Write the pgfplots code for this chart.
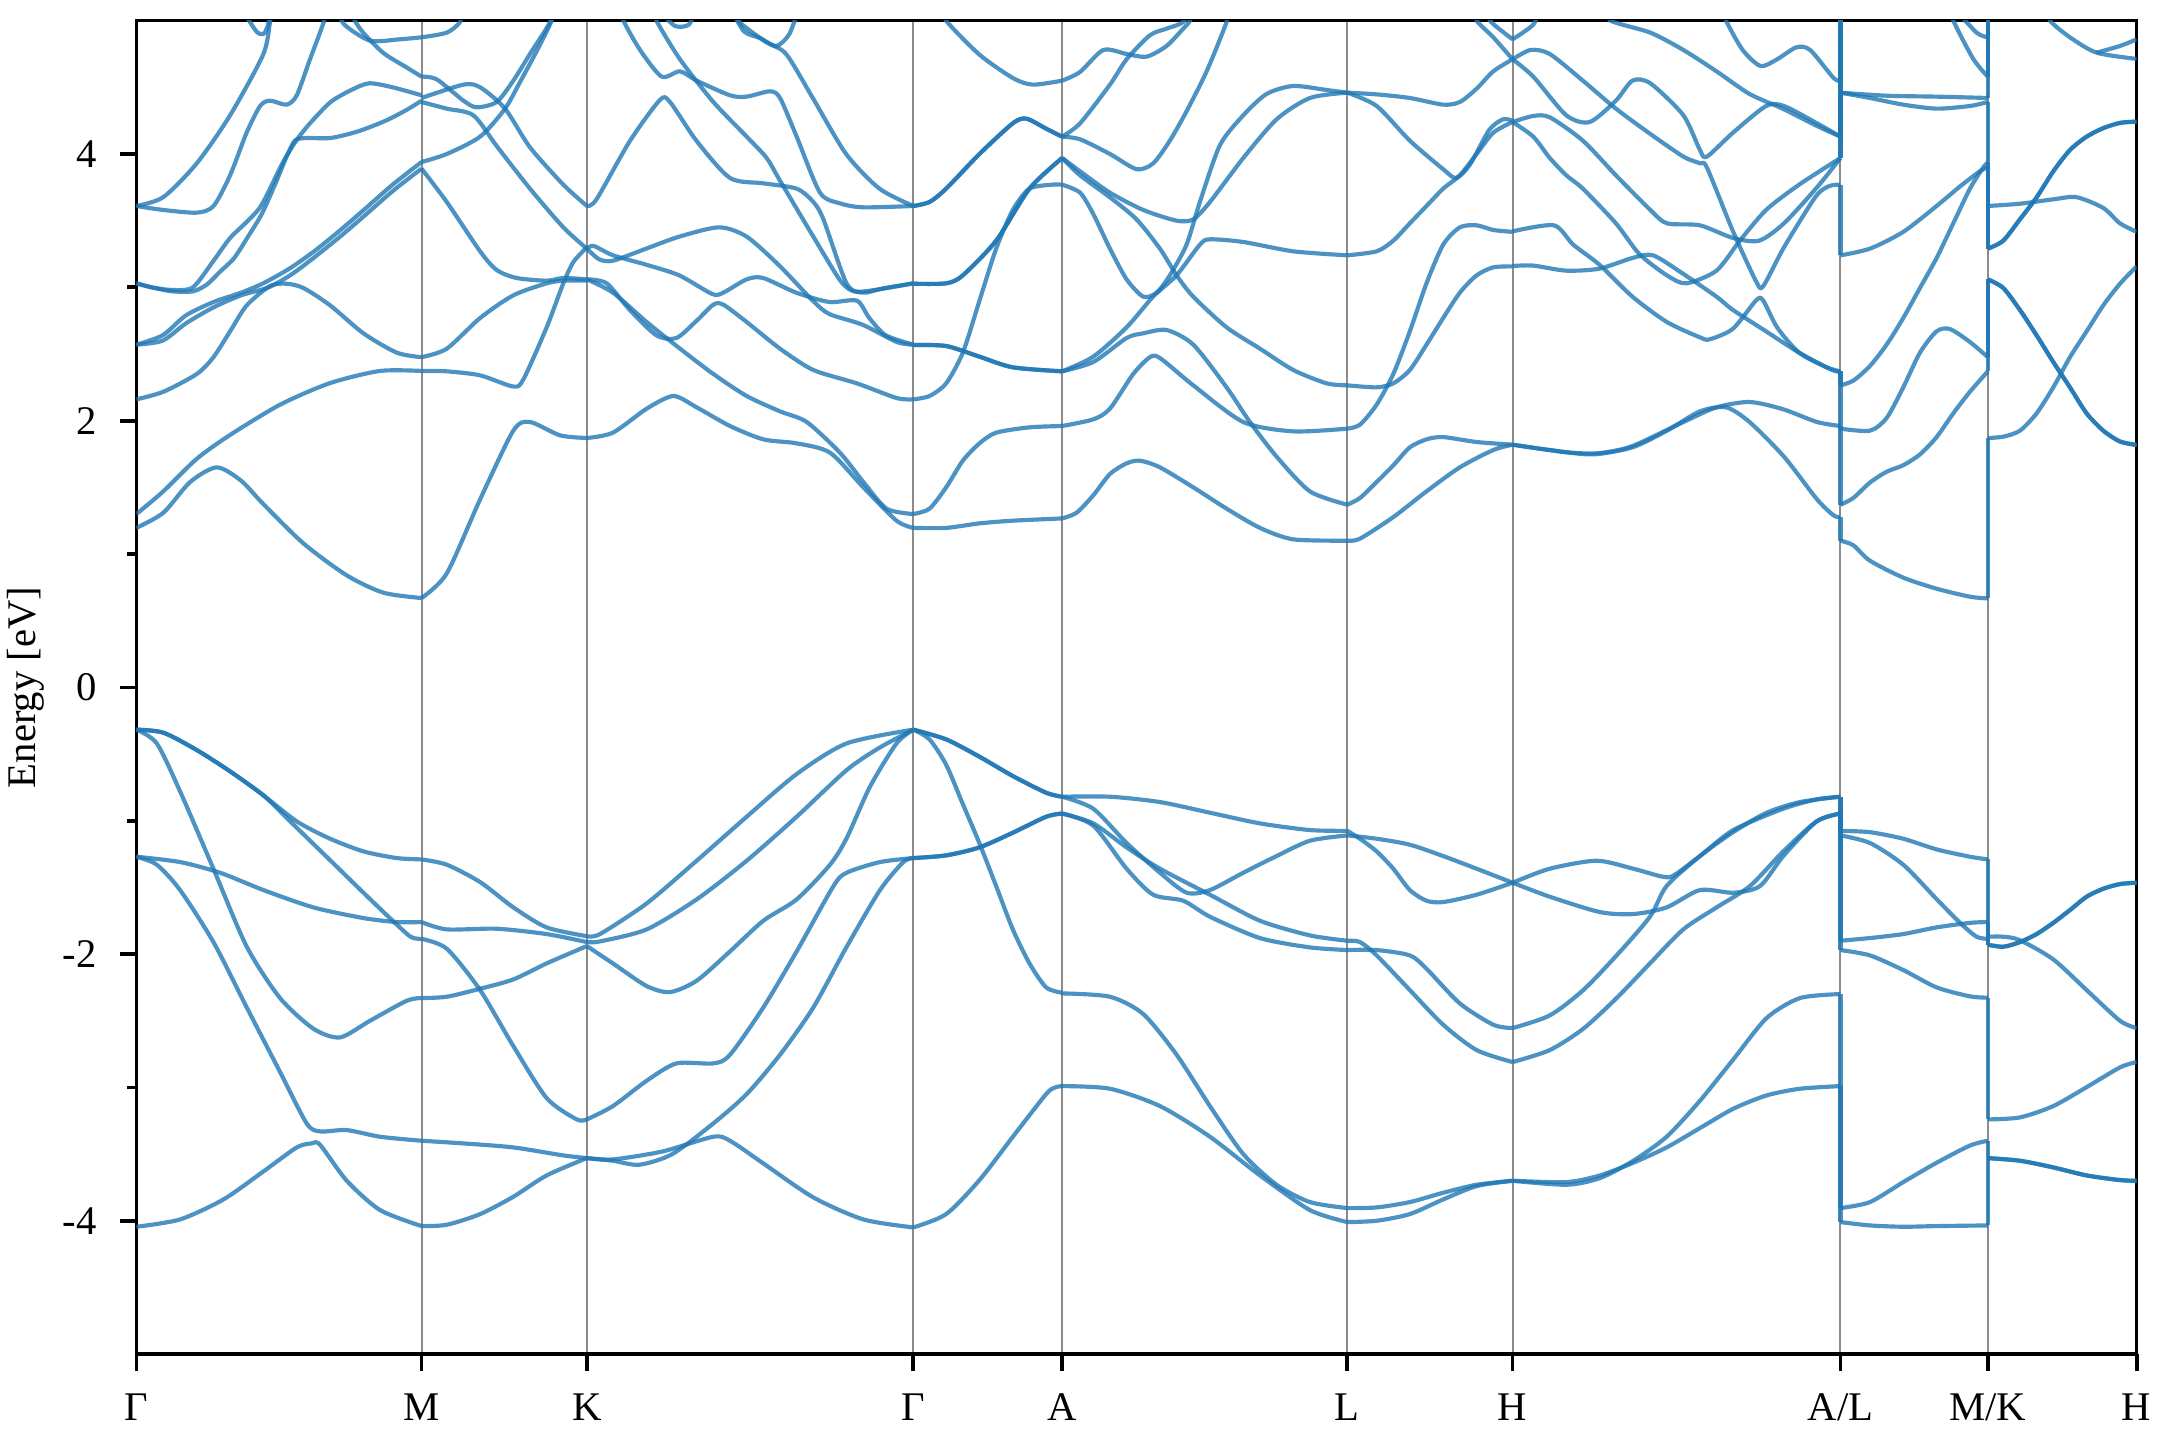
\documentclass[border=0pt]{standalone}
\usepackage{fontspec}
\setmainfont{Liberation Serif}
\usepackage{pgfplots}
\pgfplotsset{compat=1.18}
\definecolor{bandblue}{RGB}{31,119,180}
\begin{document}
\begin{tikzpicture}[font=\fontsize{9.8}{11.8}\selectfont]
\begin{axis}[
  scale only axis, width=169.35mm, height=112.9mm,
  xmin=99, xmax=1551, ymin=-5, ymax=5,
  xtick={99,306,426,663,771,978,1098,1336,1443,1551},
  xticklabels={Γ,M,K,Γ,A,L,H,A/L,M/K,H},
  ytick={-4,-2,0,2,4}, minor y tick num=1,
  /pgf/number format/assume math mode=true,
  tick align=outside, xtick pos=bottom, ytick pos=left,
  xmajorgrids, major x grid style={black!45, line width=0.5pt},
  major tick length=4pt, minor tick length=2.2pt,
  every tick/.style={black, line width=0.9pt},
  axis line style={line width=0.8pt},
  xticklabel style={yshift=-2pt},
  yticklabel style={xshift=-2pt},
  band/.style={bandblue, line width=1.0pt, draw opacity=0.8, line join=round, no markers, smooth, tension=0.45},
  vband/.style={bandblue, line width=1.0pt, draw opacity=0.8, no markers},
]
% ===== Gamma -> M : valence
\addplot[band] coordinates {(99,-0.317)(118.6,-0.34)(142.8,-0.47)(167,-0.63)(191.2,-0.81)(215.4,-1.005)(239.6,-1.135)(263.8,-1.23)(288,-1.28)(306,-1.29)};
\addplot[band] coordinates {(99,-0.317)(118.6,-0.34)(142.8,-0.47)(167,-0.63)(191.2,-0.81)(215.4,-1.053)(239.6,-1.296)(263.8,-1.54)(283,-1.73)(298,-1.87)(306,-1.886)};
\addplot[band] coordinates {(99,-0.317)(113.8,-0.42)(130.7,-0.78)(154.9,-1.36)(179.1,-1.945)(203.3,-2.33)(227.5,-2.56)(246.8,-2.625)(268.6,-2.50)(295.2,-2.35)(306,-2.33)};
\addplot[band] coordinates {(99,-1.27)(130.7,-1.31)(159.7,-1.39)(191.2,-1.52)(227.5,-1.65)(263.8,-1.73)(288,-1.76)(306,-1.76)};
\addplot[band] coordinates {(99,-1.27)(113.8,-1.33)(130.7,-1.52)(154.9,-1.91)(179.1,-2.40)(203.3,-2.885)(222.6,-3.27)(232.3,-3.33)(251.7,-3.32)(275.9,-3.37)(306,-3.40)};
\addplot[band] coordinates {(99,-4.045)(130.7,-3.99)(162.2,-3.84)(191.2,-3.63)(215.4,-3.45)(226.3,-3.42)(232.3,-3.43)(251.7,-3.70)(275.9,-3.92)(306,-4.04)};
% ===== M -> K : valence
\addplot[band] coordinates {(306,-1.29)(324.3,-1.33)(348.5,-1.46)(372.6,-1.65)(396.8,-1.80)(426,-1.866)};
\addplot[band] coordinates {(306,-1.76)(324.3,-1.815)(360.5,-1.81)(396.8,-1.85)(426,-1.91)};
\addplot[band] coordinates {(306,-1.886)(324.3,-1.96)(348.5,-2.27)(372.6,-2.69)(396.8,-3.08)(418.6,-3.24)(426,-3.24)};
\addplot[band] coordinates {(306,-2.33)(324.3,-2.32)(348.5,-2.26)(372.6,-2.19)(396.8,-2.07)(426,-1.94)};
\addplot[band] coordinates {(306,-3.40)(336.4,-3.42)(372.6,-3.45)(408.9,-3.51)(426,-3.53)};
\addplot[band] coordinates {(306,-4.04)(324.3,-4.03)(348.5,-3.95)(372.6,-3.82)(396.8,-3.66)(426,-3.53)};
% ===== Gamma -> M : conduction
\addplot[band] coordinates {(99,1.196)(118.6,1.31)(138,1.54)(157.3,1.65)(175,1.55)(191.2,1.374)(220.2,1.08)(251.7,0.84)(278.3,0.71)(306,0.67)};
\addplot[band] coordinates {(99,1.30)(118.6,1.471)(142.8,1.714)(167,1.893)(203.3,2.12)(239.6,2.282)(275.9,2.373)(306,2.373)};
\addplot[band] coordinates {(99,2.16)(118.6,2.217)(142.8,2.35)(154.9,2.476)(167,2.67)(179.1,2.865)(196,3.01)(208.1,3.027)(220.2,2.995)(239.6,2.865)(263.8,2.655)(288,2.51)(306,2.476)};
\addplot[band] coordinates {(99,2.57)(118,2.64)(135,2.79)(155,2.89)(175,2.96)(191,3.03)(210,3.14)(228,3.27)(246,3.42)(264,3.58)(285,3.77)(306,3.94)};
\addplot[band] coordinates {(99,2.57)(118,2.60)(135,2.73)(155,2.85)(175,2.94)(195,3.00)(212,3.10)(230,3.24)(248,3.39)(266,3.55)(286,3.73)(306,3.89)};
\addplot[band] coordinates {(99,3.03)(110,3.00)(125,2.97)(140,2.97)(150,3.02)(160,3.12)(170,3.22)(180,3.38)(190,3.55)(200,3.78)(208,3.98)(214,4.10)(222,4.12)(240,4.12)(260,4.17)(280,4.25)(295,4.33)(306,4.40)};
\addplot[band] coordinates {(99,3.03)(110,3.00)(125,2.98)(140,3.00)(155,3.20)(167,3.37)(180,3.50)(190,3.62)(205,3.93)(215,4.10)(225,4.23)(240,4.39)(255,4.48)(268,4.53)(285,4.50)(306,4.44)};
\addplot[band] coordinates {(99,3.61)(118.6,3.677)(142.8,3.93)(167,4.29)(191,4.745)(196,4.99)(198,5.1)};
\addplot[band] coordinates {(99,3.61)(118.6,3.58)(142.8,3.56)(155,3.61)(167,3.84)(179,4.16)(188.8,4.36)(196,4.40)(208,4.37)(215.4,4.44)(225,4.71)(235,4.99)(237,5.1)};
\addplot[band] coordinates {(176,5.08)(186,4.92)(191,4.90)(194,4.95)(197,5.08)};
\addplot[band] coordinates {(244,5.1)(250,4.97)(268.6,4.85)(290,4.86)(306,4.875)};
\addplot[band] coordinates {(252,5.1)(262,4.93)(278,4.76)(295,4.65)(306,4.58)};
% ===== M -> K : conduction
\addplot[band] coordinates {(306,0.67)(324.3,0.855)(348.5,1.41)(372.6,1.925)(384.7,1.99)(406.5,1.89)(426,1.87)};
\addplot[band] coordinates {(306,2.373)(324.3,2.37)(348.5,2.34)(372.6,2.256)(379.9,2.31)(396.8,2.70)(408.9,3.03)(416.2,3.19)(426,3.30)};
\addplot[band] coordinates {(306,2.476)(324.3,2.54)(348.5,2.77)(372.6,2.94)(396.8,3.03)(408.9,3.05)(426,3.05)};
\addplot[band] coordinates {(306,3.89)(324.3,3.64)(348.5,3.27)(360.5,3.13)(375,3.07)(396.8,3.05)(408.9,3.07)(426,3.06)};
\addplot[band] coordinates {(306,3.94)(324.3,4.0)(348.5,4.13)(366.6,4.34)(378,4.55)(390,4.78)(400,4.99)(402,5.1)};
\addplot[band] coordinates {(306,4.39)(324.3,4.34)(343.6,4.29)(360.5,4.06)(384.7,3.74)(408.9,3.45)(426,3.29)};
\addplot[band] coordinates {(306,4.42)(336.4,4.52)(348.5,4.50)(366.6,4.34)(384.7,4.05)(408.9,3.77)(426,3.61)};
\addplot[band] coordinates {(306,4.58)(317,4.56)(336.4,4.40)(346,4.35)(360.5,4.39)(372.6,4.55)(384.7,4.75)(399.3,4.99)(401,5.1)};
\addplot[band] coordinates {(306,4.875)(324.3,4.91)(333.9,4.99)(336,5.1)};
% ===== K -> Gamma : valence
\addplot[band] coordinates {(426,-1.866)(435.5,-1.85)(469.4,-1.62)(505.7,-1.30)(542,-0.97)(578.3,-0.65)(614.6,-0.42)(663,-0.317)};
\addplot[band] coordinates {(426,-1.91)(435.5,-1.905)(469.4,-1.815)(505.7,-1.59)(542,-1.30)(578.3,-0.97)(614.6,-0.62)(638.8,-0.45)(663,-0.317)};
\addplot[band] coordinates {(426,-1.94)(444.9,-2.07)(469.4,-2.24)(486.4,-2.285)(505.7,-2.20)(529.9,-1.98)(554.1,-1.75)(578.3,-1.59)(602.5,-1.33)(614.6,-1.13)(631.5,-0.745)(650.8,-0.42)(663,-0.317)};
\addplot[band] coordinates {(426,-3.24)(444.9,-3.14)(469.4,-2.95)(491,-2.82)(517.8,-2.82)(529.9,-2.755)(554.1,-2.40)(578.3,-1.98)(605,-1.49)(614.6,-1.39)(638.8,-1.31)(663,-1.28)};
\addplot[band] coordinates {(426,-3.53)(444.9,-3.55)(464,-3.58)(488,-3.50)(517.8,-3.27)(542,-3.05)(566.2,-2.755)(590.4,-2.40)(614.6,-1.945)(638.8,-1.52)(655.7,-1.31)(663,-1.28)};
\addplot[band] coordinates {(426,-3.53)(444.9,-3.54)(481,-3.48)(517.8,-3.37)(529.9,-3.40)(554.1,-3.57)(590.4,-3.825)(626.7,-3.99)(663,-4.05)};
% ===== K -> Gamma : conduction
\addplot[band] coordinates {(426,1.87)(444.9,1.91)(469.4,2.09)(488.8,2.185)(505.7,2.10)(529.9,1.96)(554.1,1.86)(578.3,1.83)(602.5,1.76)(626.7,1.50)(650.8,1.25)(663,1.196)};
\addplot[band] coordinates {(426,3.06)(444.9,2.96)(469.4,2.74)(493.6,2.54)(517.8,2.35)(542,2.185)(566.2,2.07)(585.6,1.99)(609.7,1.76)(626.7,1.54)(643.6,1.34)(663,1.30)};
\addplot[band] coordinates {(426,3.06)(440.4,3.03)(457.2,2.83)(476.5,2.64)(491,2.62)(505.7,2.75)(517.8,2.87)(525,2.87)(542,2.74)(566.2,2.54)(590.4,2.38)(622,2.28)(650.8,2.17)(663,2.16)};
\addplot[band] coordinates {(426,3.29)(431,3.31)(445,3.24)(469,3.17)(493,3.09)(517,2.95)(525,2.96)(542,3.06)(554,3.07)(578,2.96)(602,2.89)(622,2.90)(631,2.77)(643,2.64)(663,2.57)};
\addplot[band] coordinates {(426,3.29)(435,3.21)(445,3.20)(469,3.29)(493,3.38)(522,3.45)(542,3.38)(566,3.16)(590,2.90)(602,2.80)(626,2.72)(651,2.59)(663,2.57)};
\addplot[band] coordinates {(426,3.61)(433,3.66)(457.2,4.097)(479,4.405)(486.3,4.39)(505.7,4.097)(529.9,3.82)(554.1,3.78)(578.3,3.74)(590.4,3.64)(597.7,3.51)(614.6,3.027)(626.7,2.96)(640,2.99)(663,3.03)};
\addplot[band] coordinates {(474,5.1)(476.5,5.0)(493.6,4.71)(517.8,4.39)(542,4.13)(556.5,3.97)(566.2,3.80)(590.4,3.38)(610,3.05)(620,2.97)(635,2.98)(663,3.03)};
\addplot[band] coordinates {(450,5.1)(452.5,5.0)(464.6,4.78)(480.3,4.58)(493.6,4.62)(505.7,4.55)(529.9,4.44)(542,4.43)(558.9,4.47)(566.2,4.42)(578.3,4.13)(595.2,3.71)(609.7,3.63)(626.6,3.60)(663,3.61)};
\addplot[band] coordinates {(534,5.1)(536.7,4.99)(556,4.84)(570.6,4.75)(590,4.42)(614.2,4.0)(638.4,3.74)(663,3.61)};
\addplot[band] coordinates {(530,5.1)(540,4.92)(551.5,4.87)(563.6,4.81)(573,4.90)(580,5.1)};
\addplot[band] coordinates {(478,5.08)(490,4.96)(500,4.97)(505,5.08)};
% ===== Gamma -> A : valence
\addplot[band] coordinates {(663,-0.317)(686.8,-0.39)(711,-0.52)(735.2,-0.665)(759.4,-0.79)(771,-0.82)};
\addplot[band] coordinates {(663,-0.317)(686.8,-0.39)(711,-0.52)(735.2,-0.665)(759.4,-0.79)(771,-0.82)};
\addplot[band] coordinates {(663,-0.317)(674.7,-0.39)(686.8,-0.58)(698.9,-0.875)(711,-1.17)(723.1,-1.49)(735.2,-1.815)(747.3,-2.07)(759.4,-2.25)(771,-2.29)};
\addplot[band] coordinates {(663,-1.28)(686.8,-1.26)(711,-1.20)(735.2,-1.09)(759.4,-0.97)(771,-0.946)};
\addplot[band] coordinates {(663,-1.28)(686.8,-1.26)(711,-1.20)(735.2,-1.09)(759.4,-0.97)(771,-0.946)};
\addplot[band] coordinates {(663,-4.05)(686.8,-3.95)(711,-3.695)(735.2,-3.37)(759.4,-3.05)(766,-3.00)(771,-2.99)};
% ===== Gamma -> A : conduction
\addplot[band] coordinates {(663,1.196)(686.8,1.196)(711,1.23)(735.2,1.25)(771,1.267)};
\addplot[band] coordinates {(663,1.30)(674.7,1.34)(686.8,1.50)(698.9,1.70)(711,1.83)(723.1,1.91)(747.3,1.95)(771,1.96)};
\addplot[band] coordinates {(663,2.16)(674.7,2.185)(686.8,2.28)(698.9,2.51)(711,2.90)(723.1,3.29)(735.2,3.58)(747.3,3.74)(764,3.77)(771,3.77)};
\addplot[band] coordinates {(663,2.567)(686.8,2.56)(711,2.48)(735.2,2.40)(771,2.37)};
\addplot[band] coordinates {(663,2.567)(686.8,2.56)(711,2.48)(735.2,2.40)(771,2.37)};
\addplot[band] coordinates {(663,3.027)(686.8,3.03)(698.9,3.09)(723.1,3.35)(747.3,3.74)(771,3.97)};
\addplot[band] coordinates {(663,3.027)(686.8,3.03)(698.9,3.09)(723.1,3.35)(747.3,3.74)(771,3.97)};
\addplot[band] coordinates {(663,3.61)(674.7,3.64)(686.8,3.74)(711,4.0)(735.2,4.23)(745,4.265)(759.4,4.19)(771,4.13)};
\addplot[band] coordinates {(663,3.61)(674.7,3.64)(686.8,3.74)(711,4.0)(735.2,4.23)(745,4.265)(759.4,4.19)(771,4.13)};
\addplot[band] coordinates {(685,5.1)(686.8,5.0)(711,4.745)(735.2,4.57)(749.7,4.52)(771,4.55)};
% ===== A -> L : valence
\addplot[band] coordinates {(771,-0.82)(805.7,-0.82)(842,-0.86)(878.3,-0.94)(914.6,-1.02)(950.9,-1.07)(978,-1.076)};
\addplot[band] coordinates {(771,-0.82)(793.6,-0.91)(817.8,-1.167)(842,-1.39)(861.4,-1.54)(878.3,-1.52)(902.5,-1.39)(926.7,-1.265)(950.9,-1.15)(978,-1.11)};
\addplot[band] coordinates {(771,-0.946)(793.6,-1.02)(817.8,-1.20)(842,-1.36)(878.3,-1.555)(914.6,-1.75)(950.9,-1.86)(978,-1.90)};
\addplot[band] coordinates {(771,-0.946)(793.6,-1.037)(817.8,-1.36)(837.1,-1.555)(858.9,-1.60)(878.3,-1.72)(914.6,-1.88)(950.9,-1.95)(978,-1.97)};
\addplot[band] coordinates {(771,-2.295)(805.7,-2.32)(829.9,-2.45)(854.1,-2.755)(878.3,-3.14)(902.5,-3.50)(926.7,-3.73)(950.9,-3.86)(978,-3.905)};
\addplot[band] coordinates {(771,-2.99)(805.7,-3.01)(842,-3.14)(878.3,-3.37)(914.6,-3.66)(950.9,-3.92)(978,-4.01)};
% ===== A -> L : conduction
\addplot[band] coordinates {(771,1.267)(781.5,1.31)(793.6,1.44)(805.7,1.60)(817.8,1.68)(827.5,1.70)(842,1.65)(866.2,1.50)(890.4,1.34)(914.6,1.196)(938.8,1.11)(978,1.10)};
\addplot[band] coordinates {(771,1.96)(793.6,2.01)(805.7,2.09)(822.6,2.35)(834.7,2.476)(842,2.47)(866.2,2.265)(902.5,1.99)(938.8,1.92)(978,1.94)};
\addplot[band] coordinates {(771,2.37)(793.6,2.44)(817.8,2.62)(829.9,2.655)(846.8,2.68)(866.2,2.57)(890.4,2.25)(907.3,1.99)(926.7,1.73)(950.9,1.47)(978,1.37)};
\addplot[band] coordinates {(771,2.37)(793.6,2.48)(817.8,2.70)(837,2.93)(854,3.09)(871,3.32)(878.3,3.36)(902.5,3.34)(938.8,3.27)(978,3.24)};
\addplot[band] coordinates {(771,3.77)(784,3.71)(793.6,3.55)(805.7,3.29)(817.8,3.06)(829.9,2.93)(839.6,2.96)(849.2,3.09)(861.3,3.32)(871,3.64)(885.5,4.065)(902.5,4.29)(919.4,4.45)(938.8,4.51)(962.9,4.48)(978,4.46)};
\addplot[band] coordinates {(771,3.97)(784,3.87)(805.7,3.71)(829.9,3.58)(854.1,3.50)(866.2,3.51)(878.3,3.64)(902.5,3.97)(926.7,4.26)(950.9,4.42)(978,4.46)};
\addplot[band] coordinates {(771,3.97)(784,3.84)(805.7,3.675)(825,3.51)(842,3.29)(854.1,3.09)(866.2,2.93)(890.4,2.70)(914.6,2.54)(938.8,2.38)(963,2.28)(978,2.265)};
\addplot[band] coordinates {(771,4.13)(784,4.23)(805.7,4.52)(817.8,4.71)(834.7,4.89)(846.8,4.94)(858.9,4.99)(862,5.1)};
\addplot[band] coordinates {(771,4.13)(784,4.11)(805.7,4.0)(825,3.886)(837.1,3.93)(849.2,4.10)(861.3,4.32)(875.9,4.62)(890.4,4.99)(892,5.1)};
\addplot[band] coordinates {(771,4.55)(784,4.615)(800.9,4.78)(817.8,4.75)(832.3,4.73)(846.8,4.81)(858.9,4.94)(863.8,5.0)(866,5.1)};
% ===== L -> H : valence
\addplot[band] coordinates {(978,-1.076)(987.2,-1.135)(999.3,-1.23)(1011.4,-1.36)(1023.4,-1.52)(1035.5,-1.60)(1047.6,-1.61)(1071.9,-1.555)(1098,-1.465)};
\addplot[band] coordinates {(978,-1.11)(999.3,-1.135)(1023.4,-1.18)(1047.6,-1.265)(1071.9,-1.36)(1098,-1.465)};
\addplot[band] coordinates {(978,-1.90)(987.2,-1.91)(999.3,-2.01)(1023.4,-2.27)(1047.6,-2.53)(1071.9,-2.72)(1098,-2.81)};
\addplot[band] coordinates {(978,-1.97)(999.3,-1.97)(1023.4,-2.01)(1035.5,-2.11)(1059.7,-2.37)(1084,-2.53)(1098,-2.555)};
\addplot[band] coordinates {(978,-3.905)(999.3,-3.90)(1023.4,-3.86)(1047.6,-3.79)(1071.9,-3.73)(1098,-3.70)};
\addplot[band] coordinates {(978,-4.01)(999.3,-4.0)(1023.4,-3.95)(1047.6,-3.84)(1071.9,-3.74)(1098,-3.70)};
% ===== L -> H : conduction
\addplot[band] coordinates {(978,1.10)(987.2,1.115)(1011.4,1.277)(1035.5,1.47)(1059.7,1.65)(1084,1.78)(1098,1.82)};
\addplot[band] coordinates {(978,1.37)(987.2,1.42)(999.3,1.54)(1011.4,1.665)(1023.4,1.80)(1035.5,1.86)(1047.6,1.877)(1071.9,1.84)(1098,1.82)};
\addplot[band] coordinates {(978,1.94)(987.2,1.97)(999.3,2.12)(1011.4,2.35)(1023.4,2.67)(1035.5,3.03)(1047.6,3.32)(1059.7,3.45)(1071.9,3.465)(1084,3.43)(1098,3.416)};
\addplot[band] coordinates {(978,2.265)(999.3,2.25)(1011.4,2.28)(1023.4,2.38)(1035.5,2.57)(1047.6,2.77)(1059.7,2.96)(1071.9,3.09)(1084,3.15)(1098,3.157)};
\addplot[band] coordinates {(978,3.24)(999.3,3.27)(1011.4,3.35)(1023.4,3.48)(1035.5,3.61)(1047.6,3.74)(1059.7,3.84)(1071.9,4.0)(1084,4.16)(1098,4.24)};
\addplot[band] coordinates {(978,4.46)(999.3,4.36)(1023.4,4.10)(1047.6,3.886)(1057,3.82)(1067,3.92)(1081,4.18)(1091,4.26)(1098,4.25)};
\addplot[band] coordinates {(978,4.46)(999.3,4.447)(1023.4,4.42)(1047.6,4.37)(1059.7,4.39)(1071.9,4.49)(1084,4.62)(1098,4.71)};
\addplot[band] coordinates {(1070,5.1)(1071.9,5.0)(1084,4.875)(1098,4.71)};
\addplot[band] coordinates {(1080,5.1)(1081.5,5.0)(1098,4.86)};
% ===== H -> A : valence
\addplot[band] coordinates {(1098,-1.465)(1125,-1.36)(1159,-1.30)(1185.6,-1.36)(1207,-1.42)(1215,-1.41)(1234,-1.265)(1258.2,-1.07)(1294.5,-0.91)(1318.7,-0.84)(1336,-0.82)};
\addplot[band] coordinates {(1098,-1.465)(1125,-1.57)(1161.4,-1.685)(1185.6,-1.70)(1209.8,-1.65)(1234,-1.52)(1258.2,-1.54)(1277.6,-1.49)(1294.5,-1.265)(1318.7,-1.005)(1336,-0.946)};
\addplot[band] coordinates {(1098,-2.555)(1125,-2.46)(1149.3,-2.27)(1173.5,-2.01)(1197.7,-1.72)(1209.8,-1.49)(1234,-1.265)(1258.2,-1.085)(1282.4,-0.94)(1306.6,-0.86)(1336,-0.82)};
\addplot[band] coordinates {(1098,-2.81)(1125,-2.72)(1149.3,-2.56)(1173.5,-2.33)(1197.7,-2.07)(1221.9,-1.815)(1246.1,-1.65)(1270.3,-1.49)(1294.5,-1.23)(1318.7,-1.005)(1336,-0.946)};
\addplot[band] coordinates {(1098,-3.70)(1137.2,-3.73)(1161.4,-3.68)(1185.6,-3.55)(1209.8,-3.37)(1234,-3.10)(1258.2,-2.79)(1282.4,-2.48)(1306.6,-2.33)(1336,-2.30)};
\addplot[band] coordinates {(1098,-3.70)(1137.2,-3.71)(1161.4,-3.66)(1185.6,-3.565)(1209.8,-3.45)(1234,-3.305)(1258.2,-3.16)(1282.4,-3.06)(1306.6,-3.01)(1336,-2.99)};
% ===== H -> A : conduction
\addplot[band] coordinates {(1166,5.1)(1169,5.0)(1198,4.91)(1222,4.78)(1246,4.62)(1270,4.45)(1294,4.34)(1319,4.21)(1336,4.13)};
\addplot[band] coordinates {(1251,5.1)(1253,5.0)(1265,4.78)(1278,4.66)(1290,4.71)(1304,4.80)(1314,4.78)(1331,4.57)(1336,4.55)};
\addplot[band] coordinates {(1098,4.86)(1113,4.97)(1118,5.1)};
\addplot[band] coordinates {(1098,4.71)(1111,4.78)(1125,4.75)(1149,4.55)(1173,4.34)(1198,4.15)(1222,3.98)(1234,3.93)(1239,3.90)(1258,3.42)(1275,3.04)(1280,3.01)(1295,3.30)(1318,3.68)(1328,3.76)(1336,3.77)};
\addplot[band] coordinates {(1098,4.71)(1113,4.58)(1137,4.29)(1154,4.24)(1173,4.40)(1185,4.55)(1198,4.53)(1222,4.29)(1234,4.03)(1239,3.98)(1258,4.16)(1282,4.36)(1295,4.36)(1319,4.23)(1336,4.13)};
\addplot[band] coordinates {(1098,4.24)(1113,4.285)(1125,4.275)(1149,4.10)(1173,3.84)(1198,3.58)(1210,3.48)(1234,3.465)(1258,3.37)(1277,3.35)(1295,3.48)(1319,3.75)(1336,3.97)};
\addplot[band] coordinates {(1098,4.24)(1113,4.13)(1125,3.97)(1137,3.84)(1149,3.74)(1173,3.48)(1190,3.25)(1210,3.09)(1224,3.03)(1246,3.125)(1263,3.35)(1282,3.58)(1306,3.77)(1336,3.97)};
\addplot[band] coordinates {(1098,3.42)(1128,3.465)(1142,3.32)(1161,3.17)(1185,2.93)(1210,2.74)(1234,2.625)(1241,2.61)(1258,2.69)(1275,2.905)(1280,2.90)(1290,2.70)(1306,2.51)(1326,2.40)(1336,2.37)};
\addplot[band] coordinates {(1098,3.16)(1113,3.163)(1137,3.125)(1161,3.14)(1185,3.22)(1200,3.24)(1222,3.10)(1246,2.93)(1258,2.83)(1282,2.67)(1306,2.51)(1330,2.38)(1336,2.37)};
\addplot[band] coordinates {(1098,1.82)(1125,1.78)(1156,1.747)(1185,1.80)(1210,1.925)(1234,2.07)(1253,2.10)(1270,1.99)(1295,1.73)(1319,1.41)(1331,1.29)(1336,1.277)};
\addplot[band] coordinates {(1098,1.82)(1137,1.763)(1161,1.757)(1185,1.81)(1222,1.99)(1246,2.10)(1270,2.14)(1294,2.087)(1319,1.99)(1336,1.96)};
% ===== jumps at A|L
\addplot[vband] coordinates {(1336,1.277)(1336,1.10)};
\addplot[vband] coordinates {(1336,1.96)(1336,1.37)};
\addplot[vband] coordinates {(1336,2.37)(1336,1.94)};
\addplot[vband] coordinates {(1336,2.37)(1336,2.265)};
\addplot[vband] coordinates {(1336,3.77)(1336,3.24)};
\addplot[vband] coordinates {(1336,3.97)(1336,4.46)};
\addplot[vband] coordinates {(1336,3.97)(1336,4.46)};
\addplot[vband] coordinates {(1336,4.13)(1336,5.5)};
\addplot[vband] coordinates {(1336,4.13)(1336,5.5)};
\addplot[vband] coordinates {(1336,4.55)(1336,5.5)};
\addplot[vband] coordinates {(1336,-0.82)(1336,-1.076)};
\addplot[vband] coordinates {(1336,-0.82)(1336,-1.11)};
\addplot[vband] coordinates {(1336,-0.946)(1336,-1.90)};
\addplot[vband] coordinates {(1336,-0.946)(1336,-1.97)};
\addplot[vband] coordinates {(1336,-2.30)(1336,-3.905)};
\addplot[vband] coordinates {(1336,-2.99)(1336,-4.01)};
% ===== L -> M : conduction
\addplot[band] coordinates {(1336,1.10)(1345.3,1.066)(1357.4,0.95)(1381.6,0.823)(1405.8,0.74)(1430,0.68)(1443,0.667)};
\addplot[band] coordinates {(1336,1.37)(1345.3,1.42)(1357.4,1.536)(1369.5,1.617)(1381.6,1.666)(1393.7,1.747)(1405.8,1.877)(1417.9,2.055)(1430,2.217)(1443,2.37)};
\addplot[band] coordinates {(1336,1.94)(1357.4,1.925)(1369.5,2.02)(1381.6,2.25)(1393.7,2.51)(1405.8,2.67)(1415.5,2.687)(1430,2.59)(1443,2.476)};
\addplot[band] coordinates {(1336,2.265)(1345.3,2.30)(1357.4,2.41)(1369.5,2.57)(1381.6,2.77)(1393.7,2.995)(1405.8,3.22)(1417.9,3.48)(1430,3.74)(1439.7,3.90)(1443,3.935)};
\addplot[band] coordinates {(1336,3.24)(1357.4,3.29)(1381.6,3.416)(1405.8,3.61)(1422.7,3.756)(1437.2,3.87)(1443,3.90)};
\addplot[band] coordinates {(1336,4.46)(1369.5,4.437)(1405.8,4.43)(1443,4.42)};
\addplot[band] coordinates {(1336,4.46)(1357.4,4.42)(1381.6,4.37)(1405.8,4.34)(1430,4.36)(1443,4.39)};
\addplot[band] coordinates {(1416,5.1)(1417.9,5.0)(1432.4,4.713)(1443,4.58)};
\addplot[band] coordinates {(1418,5.1)(1434.8,4.91)(1443,4.875)};
% ===== L -> M : valence
\addplot[band] coordinates {(1336,-1.076)(1357.4,-1.086)(1381.6,-1.135)(1405.8,-1.215)(1430,-1.27)(1443,-1.29)};
\addplot[band] coordinates {(1336,-1.11)(1357.4,-1.167)(1381.6,-1.33)(1405.8,-1.588)(1422.7,-1.765)(1434.8,-1.87)(1443,-1.886)};
\addplot[band] coordinates {(1336,-1.90)(1357.4,-1.88)(1381.6,-1.85)(1405.8,-1.80)(1430,-1.766)(1443,-1.76)};
\addplot[band] coordinates {(1336,-1.97)(1357.4,-2.01)(1381.6,-2.12)(1405.8,-2.25)(1430,-2.317)(1443,-2.327)};
\addplot[band] coordinates {(1336,-3.905)(1357.4,-3.86)(1381.6,-3.71)(1405.8,-3.565)(1430,-3.436)(1443,-3.40)};
\addplot[band] coordinates {(1336,-4.01)(1357.4,-4.035)(1381.6,-4.045)(1405.8,-4.04)(1443,-4.035)};
% ===== jumps at M|K
\addplot[vband] coordinates {(1443,0.667)(1443,1.87)};
\addplot[vband] coordinates {(1443,2.37)(1443,3.06)};
\addplot[vband] coordinates {(1443,2.476)(1443,3.06)};
\addplot[vband] coordinates {(1443,3.90)(1443,3.29)};
\addplot[vband] coordinates {(1443,3.935)(1443,3.29)};
\addplot[vband] coordinates {(1443,4.39)(1443,3.61)};
\addplot[vband] coordinates {(1443,4.42)(1443,5.5)};
\addplot[vband] coordinates {(1443,4.58)(1443,5.5)};
\addplot[vband] coordinates {(1443,4.875)(1443,5.5)};
\addplot[vband] coordinates {(1443,-1.29)(1443,-1.87)};
\addplot[vband] coordinates {(1443,-1.76)(1443,-1.93)};
\addplot[vband] coordinates {(1443,-1.886)(1443,-1.93)};
\addplot[vband] coordinates {(1443,-2.327)(1443,-3.24)};
\addplot[vband] coordinates {(1443,-3.40)(1443,-3.53)};
\addplot[vband] coordinates {(1443,-4.035)(1443,-3.53)};
% ===== K -> H : conduction
\addplot[band] coordinates {(1443,1.87)(1454.2,1.88)(1466.3,1.925)(1478.4,2.055)(1490.5,2.25)(1502.6,2.476)(1514.7,2.67)(1526.8,2.865)(1538.9,3.027)(1551,3.157)};
\addplot[band] coordinates {(1443,3.06)(1454.2,2.995)(1466.3,2.83)(1478.4,2.64)(1490.5,2.44)(1502.6,2.25)(1514.7,2.055)(1526.8,1.925)(1538.9,1.844)(1551,1.818)};
\addplot[band] coordinates {(1443,3.06)(1454.2,2.995)(1466.3,2.83)(1478.4,2.64)(1490.5,2.44)(1502.6,2.25)(1514.7,2.055)(1526.8,1.925)(1538.9,1.844)(1551,1.818)};
\addplot[band] coordinates {(1443,3.29)(1454.2,3.35)(1466.3,3.51)(1478.4,3.675)(1490.5,3.87)(1502.6,4.03)(1514.7,4.13)(1526.8,4.194)(1538.9,4.233)(1551,4.243)};
\addplot[band] coordinates {(1443,3.29)(1454.2,3.35)(1466.3,3.51)(1478.4,3.675)(1490.5,3.87)(1502.6,4.03)(1514.7,4.13)(1526.8,4.194)(1538.9,4.233)(1551,4.243)};
\addplot[band] coordinates {(1443,3.61)(1466.3,3.627)(1490.5,3.66)(1507.4,3.676)(1526.8,3.595)(1538.9,3.48)(1551,3.416)};
\addplot[band] coordinates {(1486,5.1)(1488.1,5.0)(1502.6,4.875)(1521.9,4.76)(1551,4.713)};
\addplot[band] coordinates {(1521.9,4.76)(1538.9,4.81)(1551,4.86)};
% ===== K -> H : valence
\addplot[band] coordinates {(1443,-1.87)(1454.2,-1.87)(1466.3,-1.896)(1490.5,-2.04)(1514.7,-2.27)(1538.9,-2.50)(1551,-2.555)};
\addplot[band] coordinates {(1443,-1.93)(1454.2,-1.945)(1466.3,-1.91)(1478.4,-1.85)(1490.5,-1.766)(1502.6,-1.67)(1514.7,-1.57)(1526.8,-1.51)(1538.9,-1.475)(1551,-1.465)};
\addplot[band] coordinates {(1443,-1.93)(1454.2,-1.945)(1466.3,-1.91)(1478.4,-1.85)(1490.5,-1.766)(1502.6,-1.67)(1514.7,-1.57)(1526.8,-1.51)(1538.9,-1.475)(1551,-1.465)};
\addplot[band] coordinates {(1443,-3.24)(1466.3,-3.225)(1490.5,-3.14)(1514.7,-2.998)(1538.9,-2.85)(1551,-2.81)};
\addplot[band] coordinates {(1443,-3.53)(1466.3,-3.55)(1490.5,-3.60)(1514.7,-3.66)(1538.9,-3.695)(1551,-3.70)};
\addplot[band] coordinates {(1443,-3.53)(1466.3,-3.55)(1490.5,-3.60)(1514.7,-3.66)(1538.9,-3.695)(1551,-3.70)};
\end{axis}
\node[rotate=90] at ([xshift=-9.4mm]current axis.west) {Energy [eV]};
\pgfresetboundingbox
\useasboundingbox ([shift={(-11.55mm,-7.23mm)}]current axis.south west) rectangle ([shift={(1.98mm,1.75mm)}]current axis.north east);
\end{tikzpicture}
\end{document}
